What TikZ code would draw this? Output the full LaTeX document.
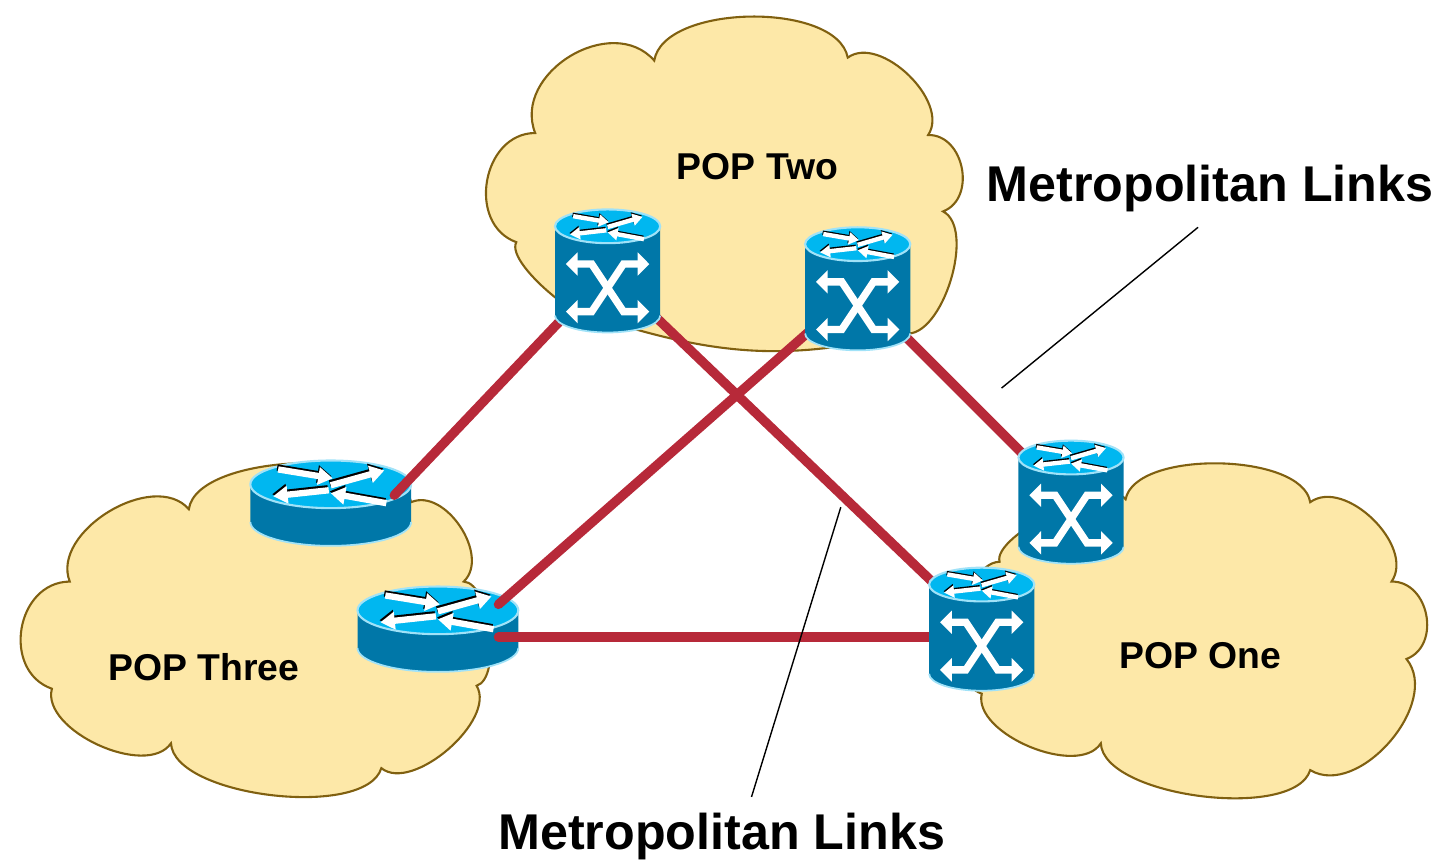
\documentclass[tikz,border=0pt]{standalone}
\usepackage{fontspec}
\setmainfont{Liberation Sans}
\usetikzlibrary{arrows.meta}
\definecolor{cloudfill}{RGB}{253,232,168}
\definecolor{cloudline}{RGB}{128,96,16}
\definecolor{linkred}{RGB}{183,41,57}
\definecolor{devbody}{RGB}{0,119,168}
\definecolor{devtop}{RGB}{0,183,240}
\definecolor{devrim}{RGB}{160,226,248}
\tikzset{
  popcloud/.style={fill=cloudfill, draw=cloudline, line width=0.6pt},
  lobe/.style={bend left=80, looseness=#1},
  link/.style={draw=linkred, line width=2.7pt, line cap=round},
  note/.style={draw=black, line width=0.4pt},
  spot/.style={inner sep=0pt, minimum size=0pt},
  poplabel/.style={font=\fontsize{10.7}{13}\selectfont\bfseries, inner sep=0pt},
  linklabel/.style={font=\fontsize{14.4}{17}\selectfont\bfseries, inner sep=0pt},
  xflow/.style={white, line width=#1,
    {Triangle[length=0pt 1.6, width=0pt 3.1]}-{Triangle[length=0pt 1.6, width=0pt 3.1]}},
  roof/.pic={
    \foreach \xa/\ya/\xb/\yb in {-53/-15/2/-6, 0/1/54/-14, -2/6/-58/12, 56/19/0/9} {
      \draw[black, line width=#1, -{Triangle[length=0pt 2.3, width=0pt 2.7]}]
        ([shift={(-1,-2)}]\xa,\ya) -- ([shift={(-1,-2)}]\xb,\yb);
      \draw[white, line width=#1, -{Triangle[length=0pt 2.3, width=0pt 2.7]}]
        (\xa,\ya) -- (\xb,\yb);
    }
  },
  rtr/.pic={
    \fill[devbody] (-81,-19) -- (-81,19) arc[start angle=180, end angle=0, x radius=81, y radius=24] -- (81,-19) -- cycle;
    \draw[devrim, line width=0.5pt] (-81,19) arc[start angle=180, end angle=0, x radius=81, y radius=24];
    \filldraw[fill=devtop, draw=devrim, line width=0.6pt] (0,-19) ellipse [x radius=81, y radius=24];
    \pic at (0,-19) {roof=1.8pt};
  },
  mlswitch/.pic={
    \fill[devbody] (-53,-45) -- (-53,45) arc[start angle=180, end angle=0, x radius=53, y radius=17] -- (53,-45) -- cycle;
    \draw[devrim, line width=0.5pt] (-53,45) arc[start angle=180, end angle=0, x radius=53, y radius=17];
    \filldraw[fill=devtop, draw=devrim, line width=0.6pt] (0,-45) ellipse [x radius=53, y radius=17];
    \pic[xscale=0.654, yscale=0.68] at (0,-45) {roof=1.25pt};
    \draw[xflow=2.1pt] (-42,-7) -- (-16,-7) -- (16,41) -- (42,41);
    \draw[xflow=2.1pt] (42,-7) -- (16,-7) -- (-16,41) -- (-42,41);
  },
}
\begin{document}
\begin{tikzpicture}[x=0.01cm, y=-0.01cm]
  \fill[white] (0,0) rectangle (1443,863);
  \path[popcloud] (513,238) to[lobe=1.23] (532,128) to[lobe=1.18] (652,55)
    to[lobe=0.76] (847,52) to[lobe=0.92] (928,130) to[lobe=1.19] (943,207)
    to[lobe=0.75] (905,330) to[bend left=15] (620,322) to[lobe=0.5] (513,238) -- cycle;
  \path[popcloud] (63,580) to[lobe=0.98] (183,507) to[lobe=0.66] (407,500)
    to[lobe=1.0] (460,580) to[lobe=0.65] (473,685) to[lobe=0.81] (377,768)
    to[lobe=0.65] (165,743) to[lobe=0.84] (45,688) to[lobe=1.27] (63,580) -- cycle;
  \path[popcloud] (1000,560) to[lobe=0.5] (1127,497) to[lobe=0.70] (1313,500)
    to[lobe=0.96] (1395,580) to[lobe=1.22] (1410,658) to[lobe=0.98] (1313,770)
    to[lobe=0.65] (1102,743) to[lobe=0.82] (982,693) to[lobe=0.77] (1000,560) -- cycle;
  \node[spot] (s1) at (605,267) {};
  \node[spot] (s2) at (857,285) {};
  \node[spot] (s3) at (1072,500) {};
  \node[spot] (s4) at (982,628) {};
  \node[spot] (r1) at (326,501) {};
  \node[spot] (r2) at (434,628) {};
  \coordinate (r1 port) at ([shift={(64,-8)}]r1);
  \coordinate (r2 port a) at ([shift={(61,-25)}]r2);
  \coordinate (r2 port b) at ([shift={(61,8)}]r2);
  \pic at (r1) {rtr};
  \pic at (r2) {rtr};
  \begin{scope}[link]
    \draw (s1) -- (r1 port);
    \draw (s1) -- (s4);
    \draw (s2) -- (r2 port a);
    \draw (s2) -- (s3);
    \draw (r2 port b) -- (r2 port b -| s4);
  \end{scope}
  \pic at (s1) {mlswitch};
  \pic at (s2) {mlswitch};
  \pic at (s3) {mlswitch};
  \pic at (s4) {mlswitch};
  \node[poplabel, anchor=base] (pop2) at (756,175) {POP Two};
  \node[poplabel, anchor=base] (pop3) at (198,680) {POP Three};
  \node[poplabel, anchor=base] (pop1) at (1202,668) {POP One};
  \node[linklabel, anchor=base] (links a) at (1212,197) {Metropolitan Links};
  \node[linklabel, anchor=base] (links b) at (720,850) {Metropolitan Links};
  \coordinate (tip a) at (1002,385);
  \coordinate (tip b) at (840,505);
  \draw[note] ([shift={(-12,26)}]links a.base) -- (tip a);
  \draw[note] ([shift={(30,-53)}]links b.base) -- (tip b);
\end{tikzpicture}
\end{document}
